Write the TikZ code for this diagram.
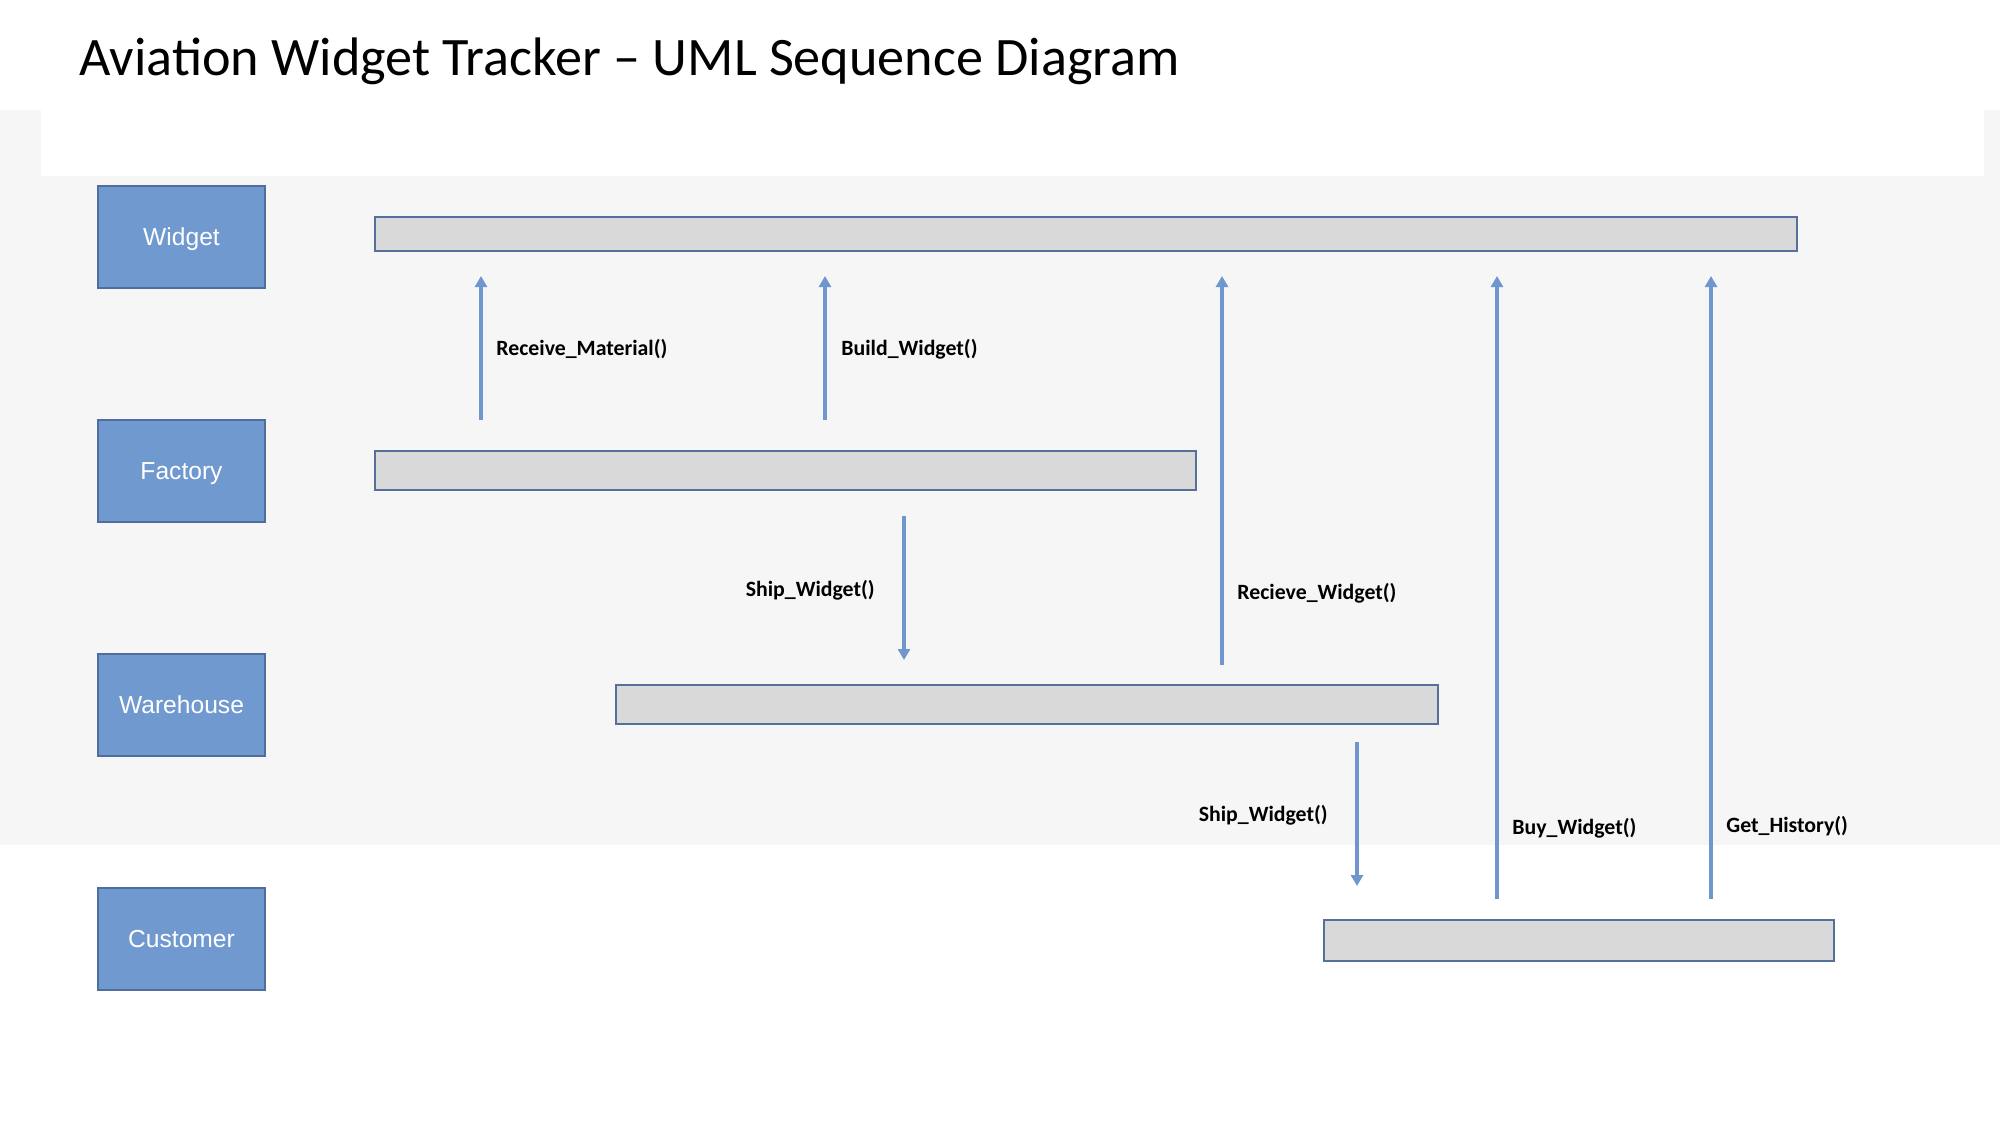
\documentclass[tikz,border=0pt]{standalone}
\usepackage{fontspec}
\setmainfont{Carlito}
\newfontfamily\arialf{Liberation Sans}
\usetikzlibrary{arrows.meta}
\definecolor{bgtex}{RGB}{246,246,246}
\definecolor{partfill}{RGB}{112,153,208}
\definecolor{partdraw}{RGB}{80,110,156}
\definecolor{barfill}{RGB}{217,217,217}
\definecolor{bardraw}{RGB}{86,112,154}
\definecolor{msgcol}{RGB}{111,150,205}
\tikzset{
  part/.style={draw=partdraw, fill=partfill, line width=1pt, minimum width=83.5pt, minimum height=51pt, inner sep=0pt, text depth=0pt, text=white, font=\arialf\fontsize{12.3}{14}\selectfont},
  lifebar/.style={draw=bardraw, fill=barfill, line width=1.2pt, inner sep=0pt},
  msg/.style={draw=msgcol, line width=1.7pt, -{Triangle[width=6pt,length=5.5pt]}},
  msglabel/.style={inner sep=0pt, font=\bfseries\fontsize{10.9}{13}\selectfont}
}
\begin{document}
\begin{tikzpicture}[x=0.5pt,y=-0.5pt]
\useasboundingbox (0,0) rectangle (2000,1125);
\fill[white] (0,0) rectangle (2000,1125);
\fill[bgtex] (0,110) rectangle (2000,845);
\fill[white] (41,110) rectangle (1984,176);

\node[anchor=base west, inner sep=0pt, font=\fontsize{27.1}{30}\selectfont] (title) at (79,75) {Aviation Widget Tracker – UML Sequence Diagram};

% participants
\node[part] (pwidget) at (181.5,237) {Widget};
\node[part] (pfactory) at (181.5,471) {Factory};
\node[part] (pwarehouse) at (181.5,705) {Warehouse};
\node[part] (pcustomer) at (181.5,939) {Customer};

% lifeline bars
\node[lifebar, minimum width=711pt, minimum height=17pt] (bwidget) at (1086,234) {};
\node[lifebar, minimum width=410.5pt, minimum height=19.5pt] (bfactory) at (785.5,470.5) {};
\node[lifebar, minimum width=411pt, minimum height=19.5pt] (bwarehouse) at (1027,704.5) {};
\node[lifebar, minimum width=255pt, minimum height=20.5pt] (bcustomer) at (1579,940.5) {};

% message end points
\coordinate (m1s) at (481,420);  \coordinate (m1e) at (481,276);
\coordinate (m2s) at (825,420);  \coordinate (m2e) at (825,276);
\coordinate (m3s) at (904,516);  \coordinate (m3e) at (904,660);
\coordinate (m4s) at (1222,665); \coordinate (m4e) at (1222,276);
\coordinate (m5s) at (1357,742); \coordinate (m5e) at (1357,886);
\coordinate (m6s) at (1497,899); \coordinate (m6e) at (1497,276);
\coordinate (m7s) at (1711,899); \coordinate (m7e) at (1711,276);

\draw[msg] (m1s) -- (m1e);
\draw[msg] (m2s) -- (m2e);
\draw[msg] (m3s) -- (m3e);
\draw[msg] (m4s) -- (m4e);
\draw[msg] (m5s) -- (m5e);
\draw[msg] (m6s) -- (m6e);
\draw[msg] (m7s) -- (m7e);

% labels
\node[msglabel, anchor=west] (l1) at (496,349) {Receive\_Material()};
\node[msglabel, anchor=west] (l2) at (841,349) {Build\_Widget()};
\node[msglabel, anchor=east] (l3) at (875,590) {Ship\_Widget()};
\node[msglabel, anchor=west] (l4) at (1237,593) {Recieve\_Widget()};
\node[msglabel, anchor=east] (l5) at (1328,815) {Ship\_Widget()};
\node[msglabel, anchor=west] (l6) at (1512,828) {Buy\_Widget()};
\node[msglabel, anchor=west] (l7) at (1726,826) {Get\_History()};
\end{tikzpicture}
\end{document}
